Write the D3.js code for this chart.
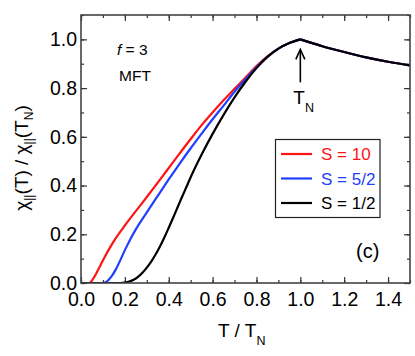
<!DOCTYPE html>
<html>
<head>
<meta charset="utf-8">
<script src="https://cdn.jsdelivr.net/npm/d3@7"></script>
<style>
  body { margin: 0; background: #fff; }
  text { font-family: "Liberation Sans", Arial, sans-serif; fill: #000; }
</style>
</head>
<body>
<div id="chart"></div>
<script>
// values (T / T_N , chi / chi(T_N))
var seriesNames = ["S = 10", "S = 5/2", "S = 1/2"];
var seriesColors = ["#ff1414", "#2040ff", "#000000"];

var tS10 = [0, 0.038, 0.05, 0.07, 0.09, 0.11, 0.13, 0.15, 0.2, 0.25, 0.3, 0.35, 0.4, 0.45, 0.5, 0.55, 0.6, 0.65, 0.7, 0.75, 0.8, 0.85, 0.9, 0.95, 1.0];
var vS10 = [0, 0, 0.01, 0.04, 0.075, 0.11, 0.142, 0.172, 0.236, 0.295, 0.353, 0.412, 0.472, 0.532, 0.591, 0.648, 0.70, 0.75, 0.797, 0.843, 0.89, 0.93, 0.962, 0.985, 1.0];

var tS52 = [0, 0.10, 0.12, 0.14, 0.16, 0.18, 0.2, 0.225, 0.25, 0.3, 0.35, 0.4, 0.45, 0.5, 0.55, 0.6, 0.65, 0.7, 0.75, 0.8, 0.85, 0.9, 0.95, 1.0];
var vS52 = [0, 0, 0.008, 0.028, 0.058, 0.095, 0.135, 0.18, 0.22, 0.29, 0.358, 0.425, 0.49, 0.553, 0.613, 0.672, 0.728, 0.785, 0.836, 0.885, 0.928, 0.962, 0.985, 1.0];

var tS12 = [0, 0.18, 0.2, 0.22, 0.24, 0.26, 0.28, 0.3, 0.32, 0.34, 0.36, 0.38, 0.4, 0.42, 0.44, 0.46, 0.48, 0.5, 0.55, 0.6, 0.65, 0.7, 0.75, 0.8, 0.85, 0.9, 0.95, 1.0];
var vS12 = [0, 0, 0.002, 0.006, 0.013, 0.025, 0.042, 0.063, 0.088, 0.117, 0.15, 0.187, 0.227, 0.268, 0.31, 0.352, 0.393, 0.434, 0.527, 0.612, 0.69, 0.762, 0.826, 0.882, 0.928, 0.962, 0.985, 1.0];

// above T_N all three curves coincide
var tPara = [1.0, 1.1, 1.2, 1.3, 1.4, 1.5];
var vPara = [1.0, 0.972, 0.948, 0.926, 0.908, 0.893];

var xTicks = [0, 0.2, 0.4, 0.6, 0.8, 1.0, 1.2, 1.4];
var yTicks = [0, 0.2, 0.4, 0.6, 0.8, 1.0];

var W = 415, H = 356;
var pL = 81, pR = 410, pT = 15, pB = 283;

var svg = d3.select("#chart").append("svg")
    .attr("width", W).attr("height", H);

var x = d3.scaleLinear().domain([0, 1.5]).range([pL, pR]);
var y = d3.scaleLinear().domain([0, 1.1]).range([pB, pT]);

var fmt = d3.format(".1f");
var minorX = d3.range(0, 1.51, 0.1).map(function(d){ return +d.toFixed(1); });
var minorY = d3.range(0, 1.11, 0.1).map(function(d){ return +d.toFixed(1); });

function styleAxis(g) {
    g.select(".domain").remove();
    g.selectAll("line").attr("stroke", "#333").attr("stroke-width", 1.2);
    g.selectAll("text").style("font-size", "19.5px").attr("fill", "#000");
}

// bottom
svg.append("g").attr("transform", "translate(0," + pB + ")")
    .call(d3.axisBottom(x).tickValues(minorX).tickSize(-3).tickFormat("")).call(styleAxis);
svg.append("g").attr("transform", "translate(0," + pB + ")")
    .call(d3.axisBottom(x).tickValues(xTicks).tickSize(-6).tickPadding(9).tickFormat(fmt)).call(styleAxis);
// top
svg.append("g").attr("transform", "translate(0," + pT + ")")
    .call(d3.axisTop(x).tickValues(minorX).tickSize(-3).tickFormat("")).call(styleAxis);
svg.append("g").attr("transform", "translate(0," + pT + ")")
    .call(d3.axisTop(x).tickValues(xTicks).tickSize(-6).tickFormat("")).call(styleAxis);
// left
svg.append("g").attr("transform", "translate(" + pL + ",0)")
    .call(d3.axisLeft(y).tickValues(minorY).tickSize(-3).tickFormat("")).call(styleAxis);
svg.append("g").attr("transform", "translate(" + pL + ",0)")
    .call(d3.axisLeft(y).tickValues(yTicks).tickSize(-6).tickPadding(4).tickFormat(fmt)).call(styleAxis);
// right
svg.append("g").attr("transform", "translate(" + pR + ",0)")
    .call(d3.axisRight(y).tickValues(minorY).tickSize(-3).tickFormat("")).call(styleAxis);
svg.append("g").attr("transform", "translate(" + pR + ",0)")
    .call(d3.axisRight(y).tickValues(yTicks).tickSize(-6).tickFormat("")).call(styleAxis);

// curves
var line = d3.line()
    .x(function(d){ return x(d[0]); })
    .y(function(d){ return y(d[1]); })
    .curve(d3.curveMonotoneX);

svg.append("clipPath").attr("id", "clip")
    .append("rect").attr("x", pL).attr("y", pT).attr("width", pR - pL).attr("height", pB - pT);

var plot = svg.append("g").attr("clip-path", "url(#clip)");

var allT = [tS10, tS52, tS12];
var allV = [vS10, vS52, vS12];
var para = d3.zip(tPara, vPara);

for (var i = 0; i < 3; i++) {
    plot.append("path")
        .datum(d3.zip(allT[i], allV[i]))
        .attr("d", line)
        .attr("fill", "none")
        .attr("stroke", seriesColors[i])
        .attr("stroke-width", 2.2)
        .attr("stroke-linejoin", "round");
    plot.append("path")
        .datum(para)
        .attr("d", line)
        .attr("fill", "none")
        .attr("stroke", seriesColors[i])
        .attr("stroke-width", 2.2);
}

// frame
svg.append("rect")
    .attr("x", pL).attr("y", pT)
    .attr("width", pR - pL).attr("height", pB - pT)
    .attr("fill", "none").attr("stroke", "#444").attr("stroke-width", 1.6);

// T_N arrow
var ax = x(1.0), ay = y(1.0);
svg.append("line")
    .attr("x1", ax).attr("x2", ax)
    .attr("y1", ay + 11).attr("y2", ay + 43)
    .attr("stroke", "#000").attr("stroke-width", 1.6);
svg.append("path")
    .attr("d", "M" + (ax - 4.5) + "," + (ay + 20) + " L" + ax + "," + (ay + 10) + " L" + (ax + 4.5) + "," + (ay + 20))
    .attr("fill", "none").attr("stroke", "#000").attr("stroke-width", 1.6);
var tn = svg.append("text").attr("x", ax - 7).attr("y", ay + 65).style("font-size", "19px");
tn.append("tspan").text("T");
tn.append("tspan").attr("dy", 7.5).style("font-size", "12.5px").text("N");

// annotations
svg.append("text").attr("x", 117).attr("y", 55).style("font-size", "15.5px")
    .html('<tspan font-style="italic">f</tspan> = 3');
svg.append("text").attr("x", 119).attr("y", 81).style("font-size", "15.5px").text("MFT");
svg.append("text").attr("x", 356).attr("y", 258).style("font-size", "20px").text("(c)");

// legend
var lg = svg.append("g");
lg.append("rect")
    .attr("x", 275.5).attr("y", 139.5).attr("width", 104.5).attr("height", 78)
    .attr("fill", "#fff").attr("stroke", "#222").attr("stroke-width", 1.2);
var rowY = [154, 178.5, 203];
seriesNames.forEach(function(name, i) {
    lg.append("line")
        .attr("x1", 281).attr("x2", 312)
        .attr("y1", rowY[i]).attr("y2", rowY[i])
        .attr("stroke", seriesColors[i]).attr("stroke-width", 2.2);
    lg.append("text")
        .attr("x", 321).attr("y", rowY[i] + 6.2)
        .style("font-size", "17px")
        .style("fill", seriesColors[i])
        .text(name);
});

// axis titles
var xt = svg.append("text").attr("x", 218).attr("y", 337).style("font-size", "19px");
xt.append("tspan").text("T / T");
xt.append("tspan").attr("dy", 8).style("font-size", "12.5px").text("N");

var yt = svg.append("text")
    .attr("transform", "translate(28,158) rotate(-90)")
    .attr("text-anchor", "middle")
    .style("font-size", "19px");
yt.append("tspan").text("\u03c7");
yt.append("tspan").attr("dy", 5).style("font-size", "12px").text("||");
yt.append("tspan").attr("dy", -5).text("(T) / \u03c7");
yt.append("tspan").attr("dy", 5).style("font-size", "12px").text("||");
yt.append("tspan").attr("dy", -5).text("(T");
yt.append("tspan").attr("dy", 5).style("font-size", "12px").text("N");
yt.append("tspan").attr("dy", -5).text(")");
</script>
</body>
</html>
